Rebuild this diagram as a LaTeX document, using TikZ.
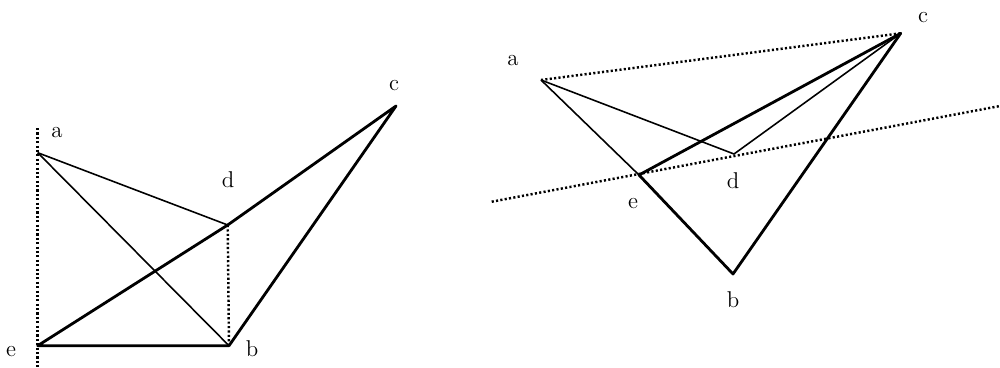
\documentclass[tikz,border=0pt]{standalone}
\usepackage{tikz}
\usetikzlibrary{
  positioning
}

\begin{document}
\begin{tikzpicture}[
    x=0.02cm,
    y=-0.02cm,
    every node/.style={font=\fontsize{13}{15}\selectfont},
    ptlabel/.style={
        inner sep=0pt,
        anchor=center
    },
    thickline/.style={line width=1.6pt, line join=round},
    thinline/.style={line width=0.9pt},
    dotline/.style={line width=1.4pt, dash pattern=on 1.2pt off 1.3pt}
]

\useasboundingbox (0,0) rectangle (1000,368);

% Left figure: points
\coordinate (a1) at (37.7,152.7);
\coordinate (b1) at (229,345.7);
\coordinate (c1) at (396,106);
\coordinate (d1) at (227.7,225);
\coordinate (e1) at (37.7,345.7);
\coordinate (top1) at (37.7,128);
\coordinate (bot1) at (37.7,368);

\node[ptlabel] (labela1) at (57,133) {a};
\node[ptlabel] (labelb1) at (252,349) {b};
\node[ptlabel] (labelc1) at (394,86) {c};
\node[ptlabel] (labeld1) at (228,180) {d};
\node[ptlabel] (labele1) at (11,352) {e};

% Right figure: points
\coordinate (a2) at (541,80);
\coordinate (b2) at (733,274);
\coordinate (c2) at (900.7,33.3);
\coordinate (d2) at (734,154);
\coordinate (e2) at (639,175);
\coordinate (left2) at (491.7,201.7);
\coordinate (right2) at (1000,106);

\node[ptlabel] (labela2) at (513,61) {a};
\node[ptlabel] (labelb2) at (733,300) {b};
\node[ptlabel] (labelc2) at (923,18) {c};
\node[ptlabel] (labeld2) at (733,181) {d};
\node[ptlabel] (labele2) at (633,204) {e};

% Left figure: lines
\draw[dotline] (top1) -- (bot1);
\draw[dotline] (d1) -- (b1);
\draw[thinline] (a1) -- (d1);
\draw[thinline] (a1) -- (b1);
\draw[thickline] (e1) -- (b1) -- (c1) -- (d1) -- cycle;

% Right figure: lines
\draw[dotline] (a2) -- (c2);
\draw[dotline] (left2) -- (right2);
\draw[thinline] (a2) -- (d2) -- (c2);
\draw[thinline] (a2) -- (e2);
\draw[thickline] (e2) -- (b2) -- (c2) -- cycle;

\end{tikzpicture}
\end{document}
